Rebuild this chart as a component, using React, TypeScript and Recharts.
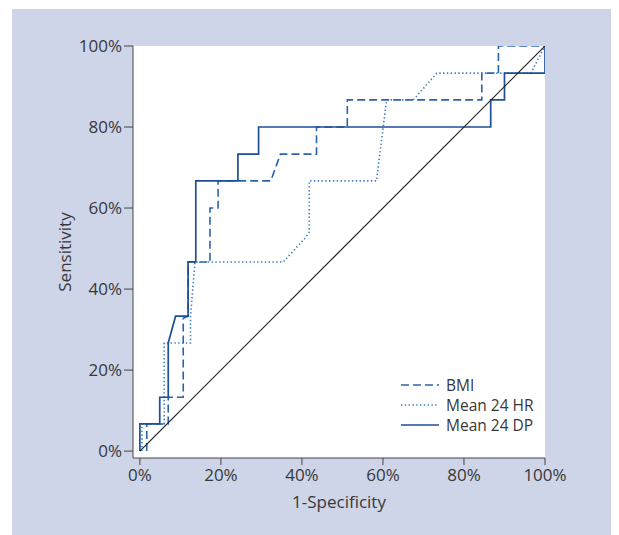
import React from 'react';
import { LineChart, Line, XAxis, YAxis, CartesianGrid, Legend, Label } from 'recharts';

// ROC curves: 1-Specificity (x) vs Sensitivity (y)
const bmiX = [0.017, 0.017, 0.07, 0.07, 0.107, 0.107, 0.119, 0.119, 0.173, 0.173, 0.193, 0.193, 0.323, 0.347, 0.436, 0.436, 0.512, 0.512, 0.844, 0.844, 0.885, 0.885, 1.0];
const bmiY = [0, 0.067, 0.067, 0.133, 0.133, 0.328, 0.333, 0.467, 0.467, 0.6, 0.6, 0.667, 0.667, 0.733, 0.733, 0.8, 0.8, 0.867, 0.867, 0.933, 0.933, 1.0, 1.0];

const hrX = [0.005, 0.005, 0.06, 0.06, 0.125, 0.125, 0.136, 0.354, 0.407, 0.418, 0.418, 0.584, 0.609, 0.675, 0.733, 0.965, 1.0];
const hrY = [0, 0.067, 0.067, 0.267, 0.267, 0.333, 0.467, 0.467, 0.525, 0.54, 0.667, 0.667, 0.867, 0.867, 0.933, 0.933, 1.0];

const dpX = [0, 0, 0.049, 0.049, 0.07, 0.07, 0.088, 0.119, 0.119, 0.138, 0.138, 0.242, 0.242, 0.293, 0.293, 0.866, 0.866, 0.9, 0.9, 1.0, 1.0];
const dpY = [0, 0.067, 0.067, 0.133, 0.133, 0.267, 0.333, 0.333, 0.467, 0.467, 0.667, 0.667, 0.733, 0.733, 0.8, 0.8, 0.867, 0.867, 0.933, 0.933, 1.0];

const refX = [0, 1];
const refY = [0, 1];

const tickValues = [0, 0.2, 0.4, 0.6, 0.8, 1.0];
const seriesNames = ['BMI', 'Mean 24 HR', 'Mean 24 DP'];

const zip = (xs: number[], ys: number[]) => xs.map((x, i) => ({ x, y: ys[i] }));
const bmi = zip(bmiX, bmiY);
const hr = zip(hrX, hrY);
const dp = zip(dpX, dpY);
const ref = zip(refX, refY);

const FONT = '"Open Sans", sans-serif';
const TEXT = '#383838';
const C_BMI = '#2b63ab';
const C_HR = '#3f7cc0';
const C_DP = '#1d4f99';
const DASH_BMI = '8 4';
const DASH_HR = '1.4 2.4';

const styles: Record<string, { color: string; dash?: string }> = {
  'BMI': { color: C_BMI, dash: DASH_BMI },
  'Mean 24 HR': { color: C_HR, dash: DASH_HR },
  'Mean 24 DP': { color: C_DP },
};

const pct = (v: number) => `${Math.round(v * 100)}%`;

function LegendContent(props: any) {
  const payload = (props.payload || [])
    .filter((e: any) => seriesNames.includes(e.value))
    .sort((a: any, b: any) => seriesNames.indexOf(a.value) - seriesNames.indexOf(b.value));
  return (
    <div style={{ fontFamily: FONT, fontSize: 15.5, color: TEXT, lineHeight: '20px' }}>
      {payload.map((e: any) => {
        const s = styles[e.value];
        return (
          <div key={e.value} style={{ display: 'flex', alignItems: 'center', height: 20 }}>
            <svg width={45} height={20} style={{ display: 'block' }}>
              <line x1={0} y1={10} x2={38} y2={10} stroke={s.color} strokeWidth={1.6} strokeDasharray={s.dash} />
            </svg>
            <span style={{ whiteSpace: 'nowrap' }}>{e.value}</span>
          </div>
        );
      })}
    </div>
  );
}

export default function App() {
  const W = 619;
  const H = 535;
  return (
    <div style={{ position: 'absolute', left: 0, top: 0, width: W, height: H, background: '#fff', overflow: 'hidden' }}>
      <div style={{ position: 'absolute', left: 12, top: 9, width: 599, height: 526, background: '#ced5e8' }} />
      <div style={{ position: 'absolute', left: 0, top: 0 }}>
        <LineChart width={W} height={H} margin={{ top: 46, right: 74, bottom: 47, left: 0 }}>
          <CartesianGrid horizontal={false} vertical={false} fill="#ffffff" stroke="none" />
          <XAxis
            type="number"
            dataKey="x"
            domain={[-0.017, 1]}
            ticks={tickValues}
            tickFormatter={pct}
            allowDataOverflow
            height={30}
            tickSize={7}
            tickMargin={4}
            stroke="#444"
            tick={{ fill: TEXT, fontSize: 17, fontFamily: FONT }}
          >
            <Label value="1-Specificity" position="bottom" offset={8} style={{ fill: TEXT, fontSize: 17, fontFamily: FONT }} />
          </XAxis>
          <YAxis
            type="number"
            dataKey="y"
            domain={[-0.017, 1]}
            ticks={tickValues}
            tickFormatter={pct}
            allowDataOverflow
            width={133}
            tickSize={9}
            tickMargin={2}
            stroke="#444"
            tick={{ fill: TEXT, fontSize: 17, fontFamily: FONT }}
          >
            <Label value="Sensitivity" angle={-90} position="center" dx={-2} style={{ fill: TEXT, fontSize: 17, fontFamily: FONT, textAnchor: 'middle' }} />
          </YAxis>
          <Legend
            layout="vertical"
            align="center"
            verticalAlign="middle"
            itemSorter={null as any}
            content={<LegendContent />}
            wrapperStyle={{ position: 'absolute', left: 401, top: 375, width: 'auto', height: 'auto' }}
          />
          <Line name="BMI" data={bmi} dataKey="y" type="linear" stroke={C_BMI} strokeWidth={1.6} strokeDasharray={DASH_BMI} dot={false} activeDot={false} isAnimationActive={false} />
          <Line name="Mean 24 HR" data={hr} dataKey="y" type="linear" stroke={C_HR} strokeWidth={1.6} strokeDasharray={DASH_HR} dot={false} activeDot={false} isAnimationActive={false} />
          <Line name="Mean 24 DP" data={dp} dataKey="y" type="linear" stroke={C_DP} strokeWidth={1.7} dot={false} activeDot={false} isAnimationActive={false} />
          <Line name="reference" legendType="none" data={ref} dataKey="y" type="linear" stroke="#222" strokeWidth={1.2} dot={false} activeDot={false} isAnimationActive={false} />
        </LineChart>
      </div>
    </div>
  );
}
